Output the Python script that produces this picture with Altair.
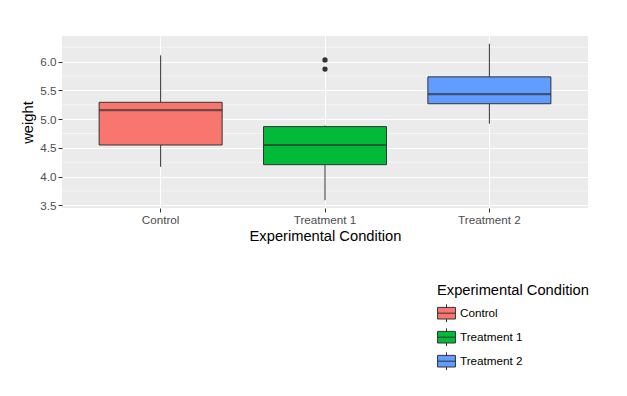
import altair as alt
import pandas as pd

groups = ["Control", "Treatment 1", "Treatment 2"]
ctrl = [4.17, 5.58, 5.18, 6.11, 4.50, 4.61, 5.17, 4.53, 5.33, 5.14]
trt1 = [4.81, 4.17, 4.41, 3.59, 5.87, 3.83, 6.03, 4.89, 4.32, 4.69]
trt2 = [6.31, 5.12, 5.54, 5.50, 5.37, 5.29, 4.92, 6.15, 5.80, 5.26]
colors = ["#F8766D", "#00BA38", "#619CFF"]
y_ticks = [3.5, 4.0, 4.5, 5.0, 5.5, 6.0]
y_minor = [3.75, 4.25, 4.75, 5.25, 5.75, 6.25]

rows = []
for g, vals in zip(groups, [ctrl, trt1, trt2]):
    for v in vals:
        rows.append({"cond": g, "weight": v})
df = pd.DataFrame(rows)
minor_df = pd.DataFrame({"m": y_minor})

ydom = [3.454, 6.446]
yscale = alt.Scale(domain=ydom, nice=False, zero=False)
yaxis = alt.Axis(values=y_ticks, format=".1f", labelOverlap=False, labelFlush=False)
xenc = alt.X("cond:N", title="Experimental Condition", sort=groups,
             scale=alt.Scale(paddingInner=0, paddingOuter=0.1),
             axis=alt.Axis(labelAngle=0))

minor = alt.Chart(minor_df).mark_rule(color="white", strokeWidth=0.5).encode(
    y=alt.Y("m:Q", title="weight", scale=yscale, axis=yaxis)
)

box = alt.Chart(df).mark_boxplot(
    extent=1.5,
    size=123,
    box={"stroke": "#333333", "strokeWidth": 1},
    median={"color": "#333333", "thickness": 2.2},
    rule={"color": "#333333", "strokeWidth": 1},
    outliers=False,
).encode(
    x=xenc,
    y=alt.Y("weight:Q", title="weight", scale=yscale, axis=yaxis),
    color=alt.Color("cond:N", sort=groups,
                    scale=alt.Scale(domain=groups, range=colors),
                    legend=alt.Legend(title="Experimental Condition",
                                      orient="none", legendX=375, legendY=247)),
)

outl = alt.Chart(df).transform_joinaggregate(
    q1="q1(weight)", q3="q3(weight)", groupby=["cond"]
).transform_calculate(
    iqr="datum.q3 - datum.q1"
).transform_filter(
    "datum.weight > datum.q3 + 1.5 * datum.iqr || datum.weight < datum.q1 - 1.5 * datum.iqr"
).mark_circle(color="#333333", size=28, opacity=1).encode(
    x=xenc,
    y=alt.Y("weight:Q", title="weight", scale=yscale, axis=yaxis),
)

chart = alt.layer(minor, box, outl).properties(
    width=526, height=172,
    autosize=alt.AutoSizeParams(type="none"),
    padding={"left": 54, "top": 28, "right": 31, "bottom": 180},
).configure_view(
    fill="#EBEBEB", stroke=None
).configure_axis(
    grid=True, gridColor="white", gridWidth=1,
    domain=False, tickColor="#333333", tickSize=4,
    labelColor="#4D4D4D", labelFontSize=11.7, labelFont="Liberation Sans",
    titleFont="Liberation Sans", titleFontSize=14.7, titleFontWeight="normal",
    titleColor="black", labelPadding=2,
).configure_axisX(
    titlePadding=3, bandPosition=0.5
).configure_axisY(
    titlePadding=4
).configure_legend(
    titleFont="Liberation Sans", titleFontSize=14.7, titleFontWeight="normal",
    titleColor="black", labelFont="Liberation Sans", labelFontSize=11.7,
    labelColor="black",
    symbolType="M-1,-0.65H1V0.65H-1Z M0,-1V-0.65 M0,0.65V1 M-1,0H1",
    symbolSize=320, symbolStrokeColor="#333333", symbolStrokeWidth=1,
    symbolOpacity=1, rowPadding=1, titlePadding=6,
)

chart.save("out.html", embed_options={"renderer": "svg", "actions": False})
